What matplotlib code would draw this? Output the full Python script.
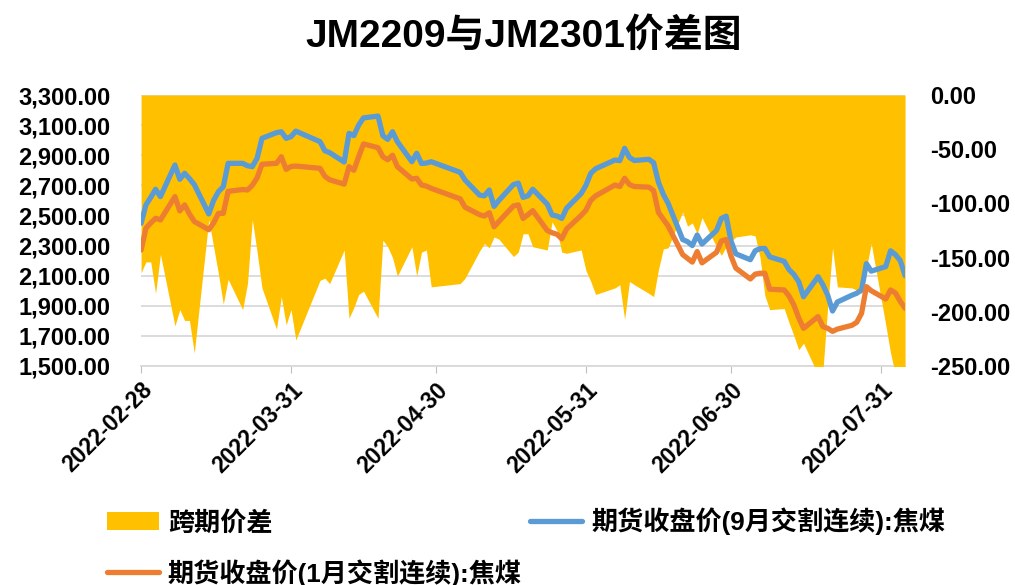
import numpy as np
import pandas as pd
import matplotlib
matplotlib.use("Agg")
import matplotlib.pyplot as plt
import matplotlib.dates as mdates

plt.rcParams['font.family'] = ['Liberation Sans', 'Noto Sans CJK SC']
plt.rcParams['font.weight'] = 'bold'
plt.rcParams['axes.unicode_minus'] = False

# trading days (DCE), Feb 28 - Aug 5 2022
holidays = ["2022-04-04", "2022-04-05", "2022-05-02", "2022-05-03", "2022-05-04", "2022-06-03"]
dates = pd.bdate_range("2022-02-28", "2022-08-05", freq="C", holidays=holidays)

# 期货收盘价(9月交割连续):焦煤
jm2209 = [2448,
          2570, 2620, 2674, 2625, 2835, 2740, 2780, 2745, 2705, 2510, 2600, 2658, 2691, 2846,
          2846, 2830, 2824, 2880, 3012, 3050, 3056, 3012, 3023,
          3060, 2990, 2930, 2917, 2855, 3045, 3030, 3100, 3148, 3160, 3030, 3005, 3056, 2990,
          2857, 2913, 2845, 2848, 2857,
          2786, 2735, 2635, 2630, 2669, 2560, 2600, 2705, 2715, 2620, 2630, 2674,
          2575, 2503, 2496, 2480, 2548, 2645, 2700,
          2780, 2810, 2868, 2864, 2946, 2885, 2865, 2873, 2850, 2720, 2640, 2580,
          2340, 2326, 2300, 2370, 2310, 2400, 2480, 2495, 2330,
          2245, 2206, 2265, 2280, 2281, 2225, 2195, 2140, 2108, 2060, 1960,
          2093, 2040, 1970, 1865, 1925, 1970, 1983, 2005, 2180, 2130,
          2160, 2265, 2240, 2200, 2100]

# 期货收盘价(1月交割连续):焦煤
jm2301 = [2270,
          2415, 2450, 2481, 2470, 2625, 2530, 2570, 2510, 2460, 2405, 2450, 2514, 2514, 2660,
          2672, 2669, 2700, 2750, 2840, 2846, 2890, 2806, 2825,
          2828, 2813, 2760, 2737, 2708, 2824, 2800, 2890, 2975, 2950, 2890, 2870, 2900, 2824,
          2742, 2747, 2702, 2695, 2680,
          2610, 2555, 2505, 2496, 2518, 2425, 2460, 2563, 2570, 2480, 2505, 2532,
          2400, 2385, 2375, 2345, 2410, 2500, 2535,
          2600, 2630, 2702, 2692, 2747, 2705, 2692, 2688, 2665, 2520, 2475, 2430,
          2240, 2215, 2190, 2260, 2185, 2255, 2330, 2340, 2230,
          2150, 2078, 2110, 2116, 2116, 2010, 2005, 1965, 1905, 1820, 1750,
          1828, 1762, 1750, 1730, 1745, 1770, 1790, 1850, 2027, 2000,
          1945, 2005, 1985, 1930, 1883]

# 跨期价差
spread = [-164,
          -154, -154, -183, -147, -213, -198, -208, -208, -238, -115, -140, -165, -193, -170,
          -198, -174, -115, -145, -178, -216, -186, -212, -198,
          -226, -171, -169, -174, -143, -206, -196, -184, -181, -206, -134, -140, -150, -167,
          -140, -167, -145, -143, -177,
          -174, -169, -144, -137, -141, -131, -133, -149, -145, -128, -128, -140,
          -143, -117, -125, -145, -146, -143, -162,
          -172, -184, -178, -175, -207, -172, -175, -183, -186, -161, -142, -141,
          -108, -121, -118, -128, -113, -140, -148, -140, -135,
          -131, -129, -130, -150, -185, -198, -197, -210, -222, -235, -229,
          -258, -255, -195, -141, -177, -178, -180, -183, -160, -137,
          -212, -238, -258, -258, -258]

tick_dates = pd.to_datetime(["2022-02-28", "2022-03-31", "2022-04-30",
                             "2022-05-31", "2022-06-30", "2022-07-31"])

fig = plt.figure(figsize=(10.15, 5.85), dpi=100)
ax = fig.add_axes([0.139, 0.3744, 0.7527, 0.4632])

# grid / left axis (bottom layer)
ax.set_ylim(1500, 3300)
ax.set_yticks(np.arange(1500, 3301, 200))
ax.yaxis.set_major_formatter(matplotlib.ticker.StrMethodFormatter("{x:,.2f}"))
ax.grid(axis='y', color='#D9D9D9', lw=1.3)
ax.set_axisbelow(True)
ax.tick_params(axis='y', length=0, pad=22, labelsize=17)
ax.set_xlim(dates[0], dates[-1])
ax.set_xticks(tick_dates)
ax.xaxis.set_major_formatter(mdates.DateFormatter("%Y-%m-%d"))
ax.tick_params(axis='x', length=5, color='#BFBFBF', labelsize=16.5, pad=4)
for lbl in ax.get_xticklabels():
    lbl.set_rotation(45)
    lbl.set_ha('right')
    lbl.set_rotation_mode('anchor')
for s in ['top', 'left', 'right']:
    ax.spines[s].set_visible(False)
ax.spines['bottom'].set_color('#D9D9D9')
ax.spines['bottom'].set_linewidth(1.3)

# spread area (right axis)
ax_s = ax.twinx()
area = ax_s.fill_between(dates, spread, 0, color='#FFC000', lw=0, label='跨期价差')
ax_s.set_ylim(-250, 0)
ax_s.set_yticks(np.arange(-250, 1, 50))
ax_s.yaxis.set_major_formatter(matplotlib.ticker.StrMethodFormatter("{x:.2f}"))
ax_s.tick_params(axis='y', length=0, pad=18, labelsize=17)
for s in ax_s.spines.values():
    s.set_visible(False)

# price lines (top layer, left scale)
ax_p = ax.twinx()
ax_p.set_ylim(1500, 3300)
l9, = ax_p.plot(dates, jm2209, color='#5B9BD5', lw=3.8, solid_capstyle='round',
                label='期货收盘价(9月交割连续):焦煤')
l1, = ax_p.plot(dates, jm2301, color='#ED7D31', lw=3.8, solid_capstyle='round',
                label='期货收盘价(1月交割连续):焦煤')
ax_p.set_yticks([])
for s in ax_p.spines.values():
    s.set_visible(False)

fig.text(0.516, 0.938, 'JM2209与JM2301价差图', ha='center', va='center',
         fontsize=28, fontweight='bold')

fig.legend([area, l1, l9], ['跨期价差', '期货收盘价(1月交割连续):焦煤', '期货收盘价(9月交割连续):焦煤'],
           ncol=2, loc='upper left', bbox_to_anchor=(0.105, 0.132), frameon=False,
           handlelength=2.0, handletextpad=0.35, labelspacing=0.9,
           columnspacing=0.3, borderpad=0, borderaxespad=0,
           prop={'weight': 'bold', 'size': 18.8})

fig.savefig("out.png", dpi=100)
